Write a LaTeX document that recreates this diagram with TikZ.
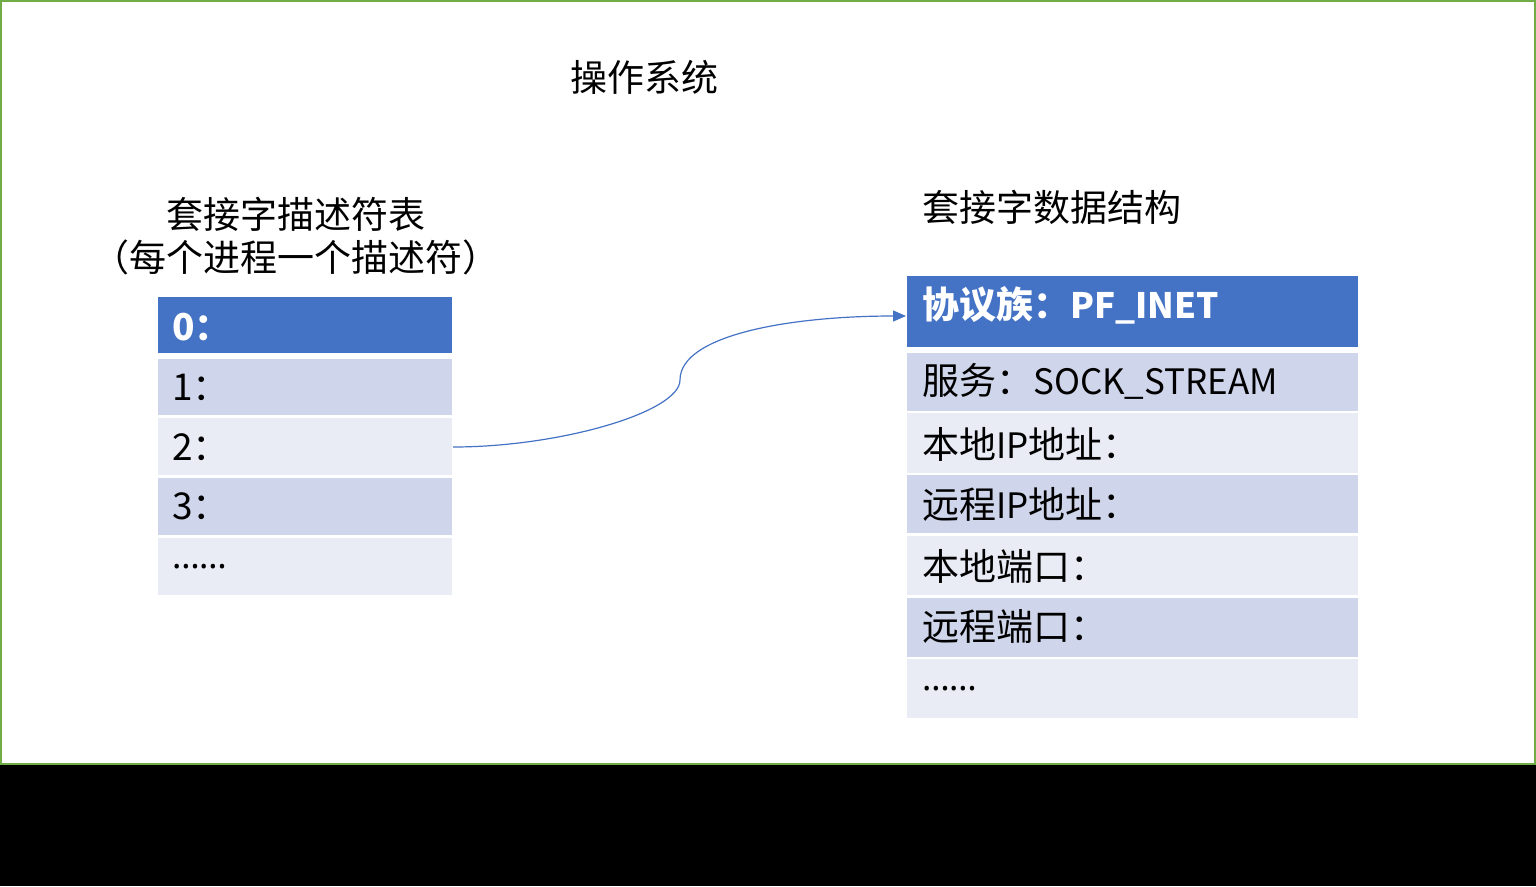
\documentclass[tikz,border=0pt]{standalone}
\usepackage{fontspec}
\setmainfont{Noto Sans CJK SC}
\newfontfamily\latinfont{Noto Sans}
\usetikzlibrary{arrows.meta}
\definecolor{hdrblue}{HTML}{4472C4}
\definecolor{rowdark}{HTML}{CFD5EA}
\definecolor{rowlight}{HTML}{E9EBF5}
\definecolor{framegreen}{HTML}{70AD47}
\newcommand{\lat}[1]{{\fontsize{35}{44}\selectfont #1}}
\tikzset{
  bigtext/.style={font=\fontsize{37}{44}\selectfont, inner sep=0pt},
  hdrcell/.style={fill=hdrblue},
  darkcell/.style={fill=rowdark},
  lightcell/.style={fill=rowlight},
  celltext/.style={bigtext, anchor=base west},
  hdrtext/.style={bigtext, anchor=base west, text=white, font=\fontsize{37}{44}\selectfont\bfseries},
  link/.style={draw=hdrblue, line width=1.2pt, -{Triangle[length=13pt,width=11pt]}},
}
\begin{document}
\begin{tikzpicture}[x=1pt,y=-1pt]
\useasboundingbox (0,0) rectangle (1536,886);
\fill[black] (0,765) rectangle (1536,886);
\fill[white] (0,0) rectangle (1536,765);
\draw[framegreen, line width=2pt] (1,1) rectangle (1535,764);

% titles
\node[bigtext, anchor=base west] (ostitle) at (570,91) {操作系统};
\node[bigtext, anchor=base] (ltitle1) at (296,228) {套接字描述符表};
\node[bigtext, anchor=base] (ltitle2) at (296,271) {（每个进程一个描述符）};
\node[bigtext, anchor=base west] (rtitle) at (922,221) {套接字数据结构};

% left table
\path[hdrcell]   (158,297) rectangle (452,353);
\path[darkcell]  (158,359) rectangle (452,415);
\path[lightcell] (158,418) rectangle (452,475);
\path[darkcell]  (158,478) rectangle (452,535);
\path[lightcell] (158,538) rectangle (452,595);
\coordinate (lrow2e) at (453,447);
\node[hdrtext] (l0) at (172,340) {0：};
\node[celltext] (l1) at (172,400) {1：};
\node[celltext] (l2) at (172,460) {2：};
\node[celltext] (l3) at (172,519) {3：};
\node[celltext, font=\fontsize{35}{44}\latinfont] (l4) at (172,568) {……};

% right table
\path[hdrcell]   (907,276) rectangle (1358,347);
\path[darkcell]  (907,353) rectangle (1358,411);
\path[lightcell] (907,413) rectangle (1358,473);
\path[darkcell]  (907,475) rectangle (1358,533);
\path[lightcell] (907,536) rectangle (1358,595);
\path[darkcell]  (907,598) rectangle (1358,657);
\path[lightcell] (907,659) rectangle (1358,718);
\coordinate (rhdrw) at (906,316);
\node[hdrtext] (r0) at (922,318) {协议族：\lat{PF\_INET}};
\node[celltext] (r1) at (922,394) {服务：\lat{SOCK\_STREAM}};
\node[celltext] (r2) at (922,458) {本地\lat{IP}地址：};
\node[celltext] (r3) at (922,518) {远程\lat{IP}地址：};
\node[celltext] (r4) at (922,580) {本地端口：};
\node[celltext] (r5) at (922,640) {远程端口：};
\node[celltext, font=\fontsize{35}{44}\latinfont] (r6) at (922,690) {……};

% connector
\coordinate (mid) at (680,380);
\draw[link] (lrow2e) .. controls (560,447) and (680,412) .. (mid)
  .. controls (680,335) and (790,316) .. (rhdrw);
\end{tikzpicture}
\end{document}
